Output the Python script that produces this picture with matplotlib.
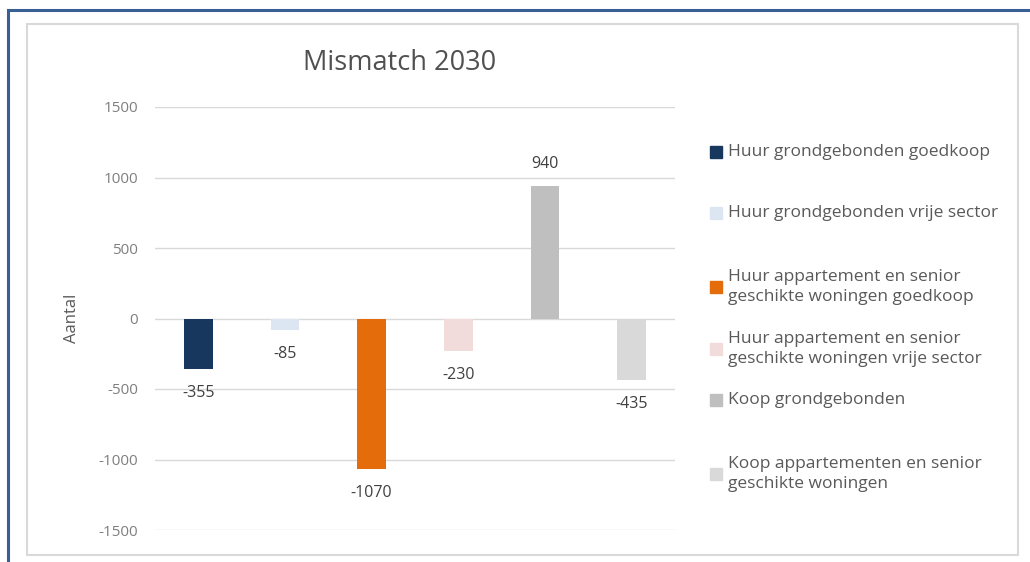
import matplotlib
matplotlib.use("Agg")
import matplotlib.pyplot as plt
from matplotlib.patches import Rectangle

categories = ["Huur grondgebonden goedkoop",
              "Huur grondgebonden vrije sector",
              "Huur appartement en senior\ngeschikte woningen goedkoop",
              "Huur appartement en senior\ngeschikte woningen vrije sector",
              "Koop grondgebonden",
              "Koop appartementen en senior\ngeschikte woningen"]
values = [-355, -85, -1070, -230, 940, -435]
colors = ["#17375E", "#DCE6F2", "#E46C0A", "#F2DCDB", "#BFBFBF", "#D9D9D9"]
yticks = [-1500, -1000, -500, 0, 500, 1000, 1500]

plt.rcParams['font.family'] = ['Open Sans', 'DejaVu Sans']

W, H = 1030, 562
fig = plt.figure(figsize=(W/100, H/100), dpi=100)

def fx(px): return px / W
def fy(py): return 1 - py / H

# outer dark-blue border
fig.patches.append(Rectangle((fx(8), fy(600)), fx(1100), fy(10) - fy(600),
                             transform=fig.transFigure, fill=False,
                             edgecolor="#3A5F95", lw=2.2))
# inner chart area border
fig.patches.append(Rectangle((fx(27), fy(555)), fx(1018-27), fy(24) - fy(555),
                             transform=fig.transFigure, fill=False,
                             edgecolor="#D9D9D9", lw=1.5))

ax = fig.add_axes([fx(155), fy(530), fx(675-155), fy(107) - fy(530)])
x = list(range(len(values)))
bars = ax.bar(x, values, width=0.33, color=colors, zorder=3)
ax.set_xlim(-0.5, len(values) - 0.5)
ax.set_ylim(-1500, 1500)
ax.set_yticks(yticks)
ax.set_yticklabels([str(t) for t in yticks])
ax.tick_params(axis='y', length=0, pad=12, labelsize=11, labelcolor="#7F7F7F")
ax.set_xticks([])
for s in ax.spines.values():
    s.set_visible(False)
ax.grid(axis='y', color="#D9D9D9", lw=1, zorder=0)
ax.set_axisbelow(True)

for xi, v in zip(x, values):
    if v < 0:
        ax.annotate(str(v), (xi, v), xytext=(0, -11.5), textcoords='offset points',
                    ha='center', va='top', fontsize=11.5, color="#404040")
    else:
        ax.annotate(str(v), (xi, v), xytext=(0, 10), textcoords='offset points',
                    ha='center', va='bottom', fontsize=11.5, color="#404040")

fig.text(fx(72), fy(318), "Aantal", rotation=90, ha='center', va='center',
         fontsize=12, color="#595959")

fig.text(fx(400), fy(63), "Mismatch 2030", ha='center', va='center',
         fontsize=19.5, color="#505050")

# legend
leg_y = [152, 213, 287, 349, 400, 474]
for lab, c, yy in zip(categories, colors, leg_y):
    fig.patches.append(Rectangle((fx(710), fy(yy + 6)), fx(12), fy(yy - 6) - fy(yy + 6),
                                 transform=fig.transFigure, color=c))
    fig.text(fx(728), fy(yy), lab, ha='left', va='center', fontsize=12.5,
             color="#595959", linespacing=1.3)

fig.savefig("out.png", dpi=100)
